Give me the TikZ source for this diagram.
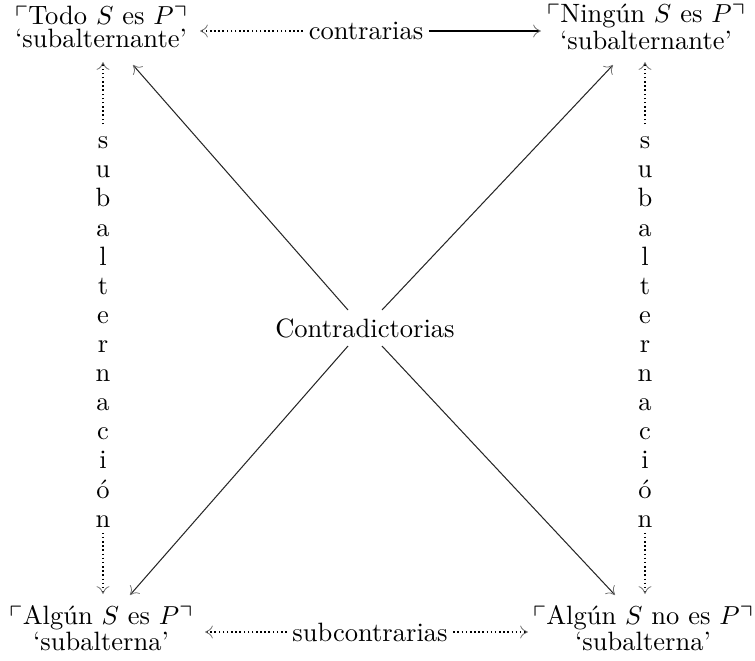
\documentclass[tikz,border=0pt]{standalone}
\usepackage{fontspec}
\usepackage{amssymb}
\usetikzlibrary{arrows.meta}
\begin{document}
\begin{tikzpicture}[x=0.3846pt,y=-0.3846pt,
  stmt/.style={align=center,inner sep=0pt,font=\fontsize{10.2}{8.7}\selectfont},
  lbl/.style={inner sep=2pt,font=\fontsize{10.2}{12}\selectfont},
  vlbl/.style={align=center,inner sep=0pt,font=\fontsize{10.2}{11.2}\selectfont},
  tip/.style={-{To[length=3pt,width=5pt,line width=0.3pt,color=black!55]}},
  dotl/.style={tip,line width=0.6pt,dash pattern=on 0.6pt off 1pt},
  solidl/.style={tip,line width=0.8pt},
  diag/.style={tip,line width=0.4pt,draw=black!85},
]
\useasboundingbox (0,0) rectangle (755,660);

% statements
\node[stmt] (tl) at (101,27) {$\ulcorner$Todo $S$ es $P\urcorner$\\`subalternante'};
\node[stmt] (tr) at (646,27) {$\ulcorner$Ningún $S$ es $P\urcorner$\\`subalternante'};
\node[stmt] (bl) at (101,628) {$\ulcorner$Algún $S$ es $P\urcorner$\\`subalterna'};
\node[stmt] (br) at (643,628) {$\ulcorner$Algún $S$ no es $P\urcorner$\\`subalterna'};

% labels
\node[lbl] (contr) at (366,31) {contrarias};
\node[lbl] (subc) at (370,632) {subcontrarias};
\node[lbl,inner sep=1pt] (ctr) at (365,328) {Contradictorias};
\node[vlbl] (vl) at (103,332) {s\\u\\b\\a\\l\\t\\e\\r\\n\\a\\c\\i\\ó\\n};
\node[vlbl] (vr) at (645,332) {s\\u\\b\\a\\l\\t\\e\\r\\n\\a\\c\\i\\ó\\n};

% arrow end coordinates
\coordinate (tlH) at (200,31);
\coordinate (trH) at (541,31);
\coordinate (blH) at (205,632);
\coordinate (brH) at (528,632);
\coordinate (tlV) at (103,62);
\coordinate (blV) at (103,594);
\coordinate (trV) at (645,62);
\coordinate (brV) at (645,594);
\coordinate (tlD) at (133,65);
\coordinate (trD) at (613,65);
\coordinate (blD) at (130,595);
\coordinate (brD) at (615,595);
\coordinate (cTL) at (348,310);
\coordinate (cTR) at (382,310);
\coordinate (cBL) at (348,346);
\coordinate (cBR) at (382,346);

% contrarias
\draw[dotl] (contr.west) -- (tlH);
\draw[solidl] (contr.east) -- (trH);
% subcontrarias
\draw[dotl] (subc.west) -- (blH);
\draw[dotl] (subc.east) -- (brH);
% subalternacion
\draw[dotl] (vl.north) ++(0,-12) -- (tlV);
\draw[dotl] (vl.south) ++(0,5) -- (blV);
\draw[dotl] (vr.north) ++(0,-12) -- (trV);
\draw[dotl] (vr.south) ++(0,5) -- (brV);
% contradictorias
\draw[diag] (cTL) -- (tlD);
\draw[diag] (cTR) -- (trD);
\draw[diag] (cBL) -- (blD);
\draw[diag] (cBR) -- (brD);
\end{tikzpicture}
\end{document}
